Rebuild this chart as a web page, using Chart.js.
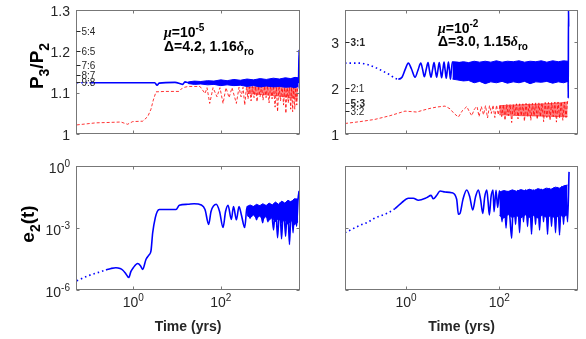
<!DOCTYPE html>
<html>
<head>
<meta charset="utf-8">
<script src="https://cdn.jsdelivr.net/npm/chart.js@4.4.1/dist/chart.umd.min.js"></script>
<style>
  body { margin: 0; background: #fff; }
  #wrap { position: relative; width: 586px; height: 339px; }
  #wrap canvas { position: absolute; left: 0; top: 0; }
</style>
</head>
<body>
<div id="wrap">
  <canvas id="c1" width="586" height="339"></canvas>
  <canvas id="c2" width="586" height="339"></canvas>
  <canvas id="c3" width="586" height="339"></canvas>
  <canvas id="c4" width="586" height="339"></canvas>
</div>
<script>
// ---- data (time in yrs) ----

// top left: P3/P2, mu = 1e-5
const p1BlueT = [0.051, 0.10, 0.5, 2.4, 3.1, 3.5, 3.9, 9.0, 13.5, 15.2, 18, 100, 1000, 5800, 6000, 6200, 6300];
const p1BlueV = [1.124, 1.124, 1.124, 1.124, 1.124, 1.118, 1.123, 1.125, 1.120, 1.126, 1.124, 1.124, 1.125, 1.125, 1.125, 1.203, 1.11];
const p1BandT = [18, 25, 35, 50, 70, 100, 140, 200, 280, 400, 560, 800, 1100, 1600, 2200, 3000, 4000, 5000, 5900];
const p1BandHi = [1.126, 1.128, 1.127, 1.129, 1.128, 1.131, 1.129, 1.132, 1.130, 1.133, 1.131, 1.134, 1.132, 1.135, 1.133, 1.136, 1.134, 1.137, 1.136];
const p1BandLo = [1.122, 1.120, 1.121, 1.119, 1.120, 1.117, 1.119, 1.117, 1.118, 1.115, 1.117, 1.114, 1.116, 1.114, 1.115, 1.113, 1.114, 1.112, 1.115];
const p1RedT = [0.051, 0.14, 0.29, 0.52, 0.74, 0.97, 1.64, 2.14, 2.54, 2.87,
  3.31, 5.3, 11.1, 13.5, 17.9, 33.6, 43.7, 48.6, 56, 66.7,
  82, 96, 113, 132, 155, 181, 228, 262, 292, 324,
  354, 389, 421, 456, 494, 534, 578, 626, 677, 733,
  793, 859, 929, 1005, 1088, 1178, 1274, 1380, 1493, 1615,
  1750, 1872, 1995, 2158, 2335, 2529, 2735, 2917, 3090, 3289,
  3507, 3733, 3981, 4191, 4419, 4656, 4932, 5200, 5483, 5781];
const p1RedV = [1.022, 1.027, 1.028, 1.029, 1.0235, 1.030, 1.031, 1.042, 1.06, 1.082,
  1.102, 1.103, 1.103, 1.112, 1.115, 1.115, 1.098, 1.112, 1.074, 1.112,
  1.09, 1.112, 1.074, 1.112, 1.088, 1.112, 1.074, 1.113, 1.09, 1.113,
  1.07, 1.114, 1.085, 1.114, 1.08, 1.115, 1.088, 1.115, 1.078, 1.116,
  1.09, 1.116, 1.082, 1.116, 1.088, 1.117, 1.075, 1.117, 1.085, 1.117,
  1.065, 1.117, 1.054, 1.117, 1.08, 1.118, 1.07, 1.118, 1.05, 1.118,
  1.075, 1.118, 1.06, 1.118, 1.054, 1.118, 1.06, 1.118, 1.07, 1.12];
const p1RedBandT = [400, 1000, 2000, 4000, 5800];
const p1RedBandHi = [1.113, 1.115, 1.116, 1.117, 1.118];
const p1RedBandLo = [1.098, 1.095, 1.092, 1.088, 1.085];

// top right: P3/P2, mu = 1e-2
const p2BlueT = [0.049, 0.093, 0.146, 0.235, 0.337, 0.454, 0.58, 0.684, 0.82, 0.95,
  1.12, 1.31, 1.56, 1.81, 2.07, 2.28, 2.47, 2.69, 2.97, 3.19,
  3.44, 3.7, 3.99, 4.25, 4.54, 4.84, 5.16, 5.47, 5.8, 6.16,
  6.54, 6.9, 7.29, 7.7, 8.13, 8.54, 8.97, 9.42, 9.9, 100,
  3000, 3030, 3060, 3090];
const p2BlueV = [2.55, 2.55, 2.52, 2.44, 2.36, 2.29, 2.22, 2.20, 2.24, 2.40,
  2.55, 2.42, 2.24, 2.40, 2.55, 2.40, 2.25, 2.40, 2.56, 2.38,
  2.24, 2.40, 2.56, 2.4, 2.24, 2.40, 2.56, 2.4, 2.23, 2.40,
  2.57, 2.4, 2.22, 2.4, 2.57, 2.4, 2.2, 2.4, 2.57, 2.36,
  2.36, 1.78, 3.8, 3.35];
const p2BandT = [9.9, 13, 17, 22, 29, 38, 50, 66, 87, 115, 150, 200, 265, 350, 460, 610, 800, 1050, 1400, 1850, 2400, 3000];
const p2BandHi = [2.57, 2.56, 2.58, 2.56, 2.59, 2.57, 2.59, 2.57, 2.60, 2.57, 2.59, 2.58, 2.60, 2.57, 2.59, 2.58, 2.60, 2.57, 2.60, 2.58, 2.60, 2.59];
const p2BandLo = [2.20, 2.18, 2.16, 2.17, 2.12, 2.15, 2.10, 2.14, 2.12, 2.15, 2.11, 2.14, 2.12, 2.15, 2.10, 2.14, 2.13, 2.15, 2.11, 2.14, 2.12, 2.15];
const p2RedT = [0.049, 0.103, 0.216, 0.454, 0.95, 1.28, 1.70, 2.32, 3.27, 4.63,
  6.87, 8.8, 10.7, 13.3, 15.9, 20.1, 22.5, 25.7, 29.5, 33.4,
  36.9, 41.3, 46, 50.8, 56.1, 61.9, 67.7, 73.6, 80.5, 87.5,
  95.2, 104, 113, 123, 133, 145, 157, 171, 185, 200,
  216, 234, 253, 274, 297, 321, 347, 376, 407, 440,
  476, 516, 558, 604, 653, 707, 765, 828, 897, 970,
  1050, 1137, 1230, 1331, 1442, 1560, 1688, 1828, 1977, 2140,
  2317, 2506, 2712, 2937];
const p2RedV = [1.23, 1.27, 1.32, 1.40, 1.50, 1.49, 1.48, 1.52, 1.56, 1.59,
  1.61, 1.55, 1.45, 1.37, 1.5, 1.60, 1.5, 1.40, 1.55, 1.60,
  1.38, 1.6, 1.42, 1.62, 1.35, 1.62, 1.45, 1.63, 1.36, 1.63,
  1.42, 1.64, 1.38, 1.64, 1.30, 1.65, 1.4, 1.65, 1.25, 1.65,
  1.42, 1.66, 1.33, 1.66, 1.4, 1.66, 1.28, 1.67, 1.38, 1.67,
  1.3, 1.67, 1.4, 1.68, 1.32, 1.68, 1.38, 1.68, 1.27, 1.69,
  1.36, 1.69, 1.3, 1.69, 1.38, 1.7, 1.26, 1.7, 1.35, 1.7,
  1.3, 1.7, 1.36, 1.72];
const p2RedBandT = [100, 300, 1000, 2000, 2940];
const p2RedBandHi = [1.62, 1.64, 1.66, 1.68, 1.70];
const p2RedBandLo = [1.42, 1.40, 1.39, 1.38, 1.38];

// bottom left: e2(t), mu = 1e-5
const p3T = [0.051, 0.098, 0.153, 0.237, 0.31, 0.40, 0.50, 0.57, 0.68, 0.785,
  0.885, 1.0, 1.26, 1.46, 1.64, 1.95, 2.29, 2.54, 2.78, 3.19,
  3.54, 3.94, 9.5, 11.3, 17.6, 24.5, 36, 43.7, 53, 60,
  79, 94, 113, 129, 147, 175, 196, 228, 262, 299,
  354, 400, 468, 566, 660, 777, 912, 1030, 1200, 1410,
  1615, 1795, 1995, 2240, 2460, 2735, 3040, 3380, 3733, 4130,
  4510, 4932, 5430, 5870, 6200];
const p3V = [2.8e-6, 5.1e-6, 6.9e-6, 9.3e-6, 1.1e-5, 1.2e-5, 1.1e-5, 9.3e-6, 6.0e-6, 4.0e-6,
  7.9e-6, 1.2e-5, 1.9e-5, 1.5e-5, 1.0e-5, 3.0e-5, 5.0e-5, 7.8e-5, 5.9e-4, 3.2e-3,
  6.3e-3, 7.9e-3, 7.9e-3, 1.26e-2, 1.4e-2, 1.5e-2, 1.3e-2, 7.9e-3, 1.5e-3, 6.3e-3,
  1.4e-2, 6.3e-3, 1.05e-3, 6.3e-3, 1.26e-2, 2.6e-3, 1.1e-2, 2.5e-3, 1.1e-2, 4.0e-3,
  1.05e-3, 1.1e-2, 3e-3, 1.1e-2, 2.5e-3, 1.2e-2, 1.8e-3, 1.3e-2, 2.0e-3, 1.4e-2,
  8e-4, 1.5e-2, 3.4e-4, 1.6e-2, 3.0e-4, 1.7e-2, 4e-4, 1.8e-2, 1.6e-4, 2e-2,
  6e-4, 2.2e-2, 1.2e-3, 2.5e-2, 6.2e-2];
const p3BandT = [400, 470, 560, 660, 780, 920, 1080, 1280, 1500, 1780, 2100, 2480, 2920, 3450, 4080, 4800, 5870];
const p3BandHi = [1.1e-2, 1.3e-2, 1.1e-2, 1.4e-2, 1.2e-2, 1.5e-2, 1.2e-2, 1.6e-2, 1.3e-2, 1.8e-2, 1.4e-2, 2.0e-2, 1.6e-2, 2.2e-2, 1.8e-2, 2.6e-2, 2.5e-2];
const p3BandLo = [4.0e-3, 3.2e-3, 4.2e-3, 3.0e-3, 3.8e-3, 2.6e-3, 3.6e-3, 2.4e-3, 3.2e-3, 2.0e-3, 3.0e-3, 1.8e-3, 2.6e-3, 1.5e-3, 2.4e-3, 1.4e-3, 2.0e-3];

// bottom right: e2(t), mu = 1e-2
const p4T = [0.049, 0.103, 0.155, 0.199, 0.277, 0.417, 0.58, 0.81, 1.12, 1.43,
  1.84, 2.78, 3.44, 3.85, 4.56, 5.37, 6.87, 9.57, 12.2, 13.3,
  14.4, 16.7, 20.1, 23.3, 27, 31, 35.6, 39.7, 44.3, 48.8,
  54, 57.5, 61.3, 66.7, 73.6, 77.3, 85.3, 92.6, 101, 115,
  127, 140, 154, 171, 185, 203, 224, 247, 273, 301,
  332, 367, 405, 447, 493, 544, 601, 664, 733, 809,
  893, 986, 1088, 1200, 1325, 1463, 1615, 1783, 1968, 2173,
  2399, 2649, 2924, 3150];
const p4V = [5.9e-4, 1.35e-3, 1.95e-3, 2.8e-3, 3.8e-3, 5.5e-3, 8.7e-3, 1.7e-2, 2.75e-2, 2.75e-2,
  2.2e-2, 2.95e-2, 3.8e-2, 2.6e-2, 3.8e-2, 6.2e-2, 5.5e-2, 5.1e-2, 2.45e-2, 4.6e-3,
  5.1e-3, 2.5e-2, 6.9e-2, 3.2e-2, 7.4e-3, 3.2e-2, 6.9e-2, 2.5e-2, 5.1e-3, 3.2e-2,
  6.9e-2, 2.0e-2, 4.3e-3, 3.2e-2, 6.9e-2, 6.2e-3, 6.6e-2, 1.0e-2, 6.3e-2, 2e-3,
  6e-2, 1e-3, 6e-2, 2.5e-3, 3.2e-4, 6e-2, 1.5e-3, 6.5e-2, 6e-4, 6.5e-2,
  2e-3, 7e-2, 1.2e-3, 7e-2, 5e-4, 7e-2, 1.5e-3, 7.5e-2, 8e-4, 7.5e-2,
  2e-3, 8e-2, 5e-4, 8e-2, 1.2e-3, 8.5e-2, 6e-4, 9e-2, 4.6e-4, 1e-1,
  1.5e-3, 1.1e-1, 2e-3, 0.52];
const p4BandT = [101, 125, 155, 190, 235, 290, 360, 445, 550, 680, 840, 1040, 1290, 1600, 1980, 2450, 2924];
const p4BandHi = [5.5e-2, 6.5e-2, 5.8e-2, 7e-2, 6e-2, 7.2e-2, 6.3e-2, 7.5e-2, 6.5e-2, 8e-2, 7e-2, 8.5e-2, 7.5e-2, 9.5e-2, 8.5e-2, 1.1e-1, 1.2e-1];
const p4BandLo = [4e-3, 3e-3, 4.5e-3, 3.2e-3, 4e-3, 3e-3, 4.4e-3, 3.2e-3, 4e-3, 3e-3, 4.2e-3, 3.2e-3, 4e-3, 3e-3, 4.2e-3, 3.5e-3, 4.5e-3];

// axes and labels
const xTicks = [1, 100];
const xTickExp = ['0', '2'];
const p1YTicks = [1, 1.1, 1.2, 1.3];
const p1YTickText = ['1', '1.1', '1.2', '1.3'];
const p2YTicks = [1, 2, 3];
const p2YTickText = ['1', '2', '3'];
const eYTicks = [1e-6, 1e-3, 1];
const eYTickExp = ['-6', '-3', '0'];
const p1ResText = ['5:4', '6:5', '7:6', '8:7', '9:8'];
const p1ResValue = [1.25, 1.2, 1.1667, 1.1429, 1.125];
const p2ResText = ['3:1', '2:1', '5:3', '3:2'];
const p2ResValue = [3, 2, 1.667, 1.5];
const p2ResBold = [true, false, true, false];

const BLUE = 'rgb(0,0,255)';
const RED = 'rgb(255,0,0)';
const FONT = '"Liberation Sans", Arial, Helvetica, sans-serif';
const TXT = '#262626';

function pts(t, v) { return t.map((x, i) => ({ x: x, y: v[i] })); }

function blueLine(t, v, dotUntil) {
  return {
    data: pts(t, v), borderColor: BLUE, borderWidth: 1.6, pointRadius: 0, fill: false,
    cubicInterpolationMode: 'monotone',
    segment: { borderDash: c => (c.p1.parsed.x < dotUntil ? [1.5, 3] : undefined) }
  };
}
function redLine(t, v) {
  return { data: pts(t, v), borderColor: RED, borderWidth: 0.8, borderDash: [3, 2], pointRadius: 0, fill: false };
}
function bandPair(t, hi, lo, color, fillColor) {
  return [
    { data: pts(t, hi), borderColor: color, borderWidth: 1, pointRadius: 0, fill: '+1', backgroundColor: fillColor },
    { data: pts(t, lo), borderColor: color, borderWidth: 1, pointRadius: 0, fill: false }
  ];
}

// text with super/subscripts: parts = [[text, 'n' | 'sup' | 'sub' | 'it'], ...]
function rich(ctx, parts, x, y, align, size, weight) {
  const fonts = parts.map(p => {
    const small = p[1] === 'sup' || p[1] === 'sub';
    const s = small ? Math.round(size * 0.72) : size;
    if (p[1] === 'it') return 'italic ' + weight + ' ' + s + 'px "Liberation Serif", serif';
    return weight + ' ' + s + 'px ' + FONT;
  });
  let w = 0;
  const ws = parts.map((p, i) => { ctx.font = fonts[i]; const m = ctx.measureText(p[0]).width; w += m; return m; });
  let cx = align === 'right' ? x - w : (align === 'center' ? x - w / 2 : x);
  ctx.textAlign = 'left';
  ctx.textBaseline = 'alphabetic';
  parts.forEach((p, i) => {
    ctx.font = fonts[i];
    const dy = p[1] === 'sup' ? -size * 0.42 : (p[1] === 'sub' ? size * 0.3 : 0);
    ctx.fillText(p[0], cx, y + dy);
    cx += ws[i];
  });
}

const panelById = {};

const deco = {
  id: 'deco',
  afterDatasetsDraw(chart) {
    const P = panelById[chart.canvas.id];
    if (!P) return;
    const ctx = chart.ctx, a = chart.chartArea;
    const xs = chart.scales.x, ys = chart.scales.y;
    const L = Math.round(a.left) + 0.5, T = Math.round(a.top) + 0.5;
    const R = Math.round(a.right) - 0.5, B = Math.round(a.bottom) - 0.5;
    ctx.save();
    ctx.strokeStyle = '#777';
    ctx.lineWidth = 1;
    ctx.strokeRect(L, T, R - L, B - T);
    ctx.beginPath();
    xTicks.forEach(v => {
      const px = Math.round(xs.getPixelForValue(v)) + 0.5;
      ctx.moveTo(px, B); ctx.lineTo(px, B - 3);
      ctx.moveTo(px, T); ctx.lineTo(px, T + 3);
    });
    P.yTicks.forEach(v => {
      const py = Math.round(ys.getPixelForValue(v)) + 0.5;
      ctx.moveTo(L, py); ctx.lineTo(L + 3, py);
      ctx.moveTo(R, py); ctx.lineTo(R - 3, py);
    });
    ctx.stroke();

    ctx.fillStyle = TXT;
    // y tick labels
    if (P.yLabels) {
      P.yTicks.forEach((v, i) => {
        const py = ys.getPixelForValue(v);
        rich(ctx, P.yLabels[i], a.left - 6, py + (P.yLabels[i].length > 1 ? 7 : 5.5), 'right', 14, 'normal');
      });
    }
    // x tick labels + title
    if (P.xLabels) {
      xTicks.forEach((v, i) => {
        rich(ctx, [['10', 'n'], [xTickExp[i], 'sup']], xs.getPixelForValue(v), a.bottom + 17, 'center', 14, 'normal');
      });
      rich(ctx, [['Time (yrs)', 'n']], (a.left + a.right) / 2, a.bottom + 41, 'center', 14, 'bold');
    }
    // y title
    if (P.yTitle) {
      ctx.save();
      ctx.translate(P.yTitle.x, P.yTitle.y);
      ctx.rotate(-Math.PI / 2);
      ctx.fillStyle = '#000';
      rich(ctx, P.yTitle.parts, 0, 0, 'center', 19, 'bold');
      ctx.restore();
    }
    // resonance markers
    if (P.res) {
      P.res.text.forEach((s, i) => {
        const py = Math.round(ys.getPixelForValue(P.res.value[i])) + 0.5;
        ctx.strokeStyle = TXT;
        ctx.beginPath(); ctx.moveTo(L, py); ctx.lineTo(L + 4, py); ctx.stroke();
        ctx.fillStyle = TXT;
        ctx.font = (P.res.bold && P.res.bold[i] ? 'bold ' : '') + '10px ' + FONT;
        ctx.textAlign = 'left'; ctx.textBaseline = 'middle';
        ctx.fillText(s, L + 5, py + 0.5);
      });
    }
    // annotation
    if (P.note) {
      ctx.fillStyle = '#000';
      P.note.lines.forEach((parts, i) => rich(ctx, parts, P.note.x, P.note.y[i], 'left', 14, 'bold'));
    }
    ctx.restore();
  }
};

const panels = [
  {
    id: 'c1', area: { l: 76, t: 10, r: 300, b: 134 }, xMax: 6500,
    yType: 'linear', yMin: 1, yMax: 1.3, yTicks: p1YTicks,
    yLabels: p1YTickText.map(s => [[s, 'n']]), xLabels: false,
    yTitle: { x: 43, y: 66, parts: [['P', 'n'], ['3', 'sub'], ['/P', 'n'], ['2', 'sub']] },
    res: { text: p1ResText, value: p1ResValue },
    note: { x: 164, y: [37, 51], lines: [
      [['\u03bc', 'it'], ['=10', 'n'], ['-5', 'sup']],
      [['\u0394=4.2, 1.16', 'n'], ['\u03b4', 'it'], ['ro', 'sub']]] },
    datasets: [blueLine(p1BlueT, p1BlueV, 0.3)]
      .concat(bandPair(p1BandT, p1BandHi, p1BandLo, BLUE, BLUE))
      .concat([redLine(p1RedT, p1RedV)])
      .concat(bandPair(p1RedBandT, p1RedBandHi, p1RedBandLo, 'rgba(255,0,0,0.5)', 'rgba(255,0,0,0.45)'))
  },
  {
    id: 'c2', area: { l: 345, t: 10, r: 578, b: 134 }, xMax: 4900,
    yType: 'linear', yMin: 1, yMax: 3.71, yTicks: p2YTicks,
    yLabels: p2YTickText.map(s => [[s, 'n']]), xLabels: false,
    res: { text: p2ResText, value: p2ResValue, bold: p2ResBold },
    note: { x: 438, y: [33, 46], lines: [
      [['\u03bc', 'it'], ['=10', 'n'], ['-2', 'sup']],
      [['\u0394=3.0, 1.15', 'n'], ['\u03b4', 'it'], ['ro', 'sub']]] },
    datasets: [blueLine(p2BlueT, p2BlueV, 0.8)]
      .concat(bandPair(p2BandT, p2BandHi, p2BandLo, BLUE, BLUE))
      .concat([redLine(p2RedT, p2RedV)])
      .concat(bandPair(p2RedBandT, p2RedBandHi, p2RedBandLo, 'rgba(255,0,0,0.55)', 'rgba(255,0,0,0.5)'))
  },
  {
    id: 'c3', area: { l: 76, t: 166, r: 300, b: 290 }, xMax: 6500,
    yType: 'logarithmic', yMin: 1e-6, yMax: 1, yTicks: eYTicks,
    yLabels: eYTickExp.map(e => [['10', 'n'], [e, 'sup']]), xLabels: true,
    yTitle: { x: 34, y: 224, parts: [['e', 'n'], ['2', 'sub'], ['(t)', 'n']] },
    datasets: [blueLine(p3T, p3V, 0.3)].concat(bandPair(p3BandT, p3BandHi, p3BandLo, BLUE, BLUE))
  },
  {
    id: 'c4', area: { l: 345, t: 166, r: 578, b: 290 }, xMax: 4900,
    yType: 'logarithmic', yMin: 1e-6, yMax: 1, yTicks: eYTicks,
    yLabels: null, xLabels: true,
    datasets: [blueLine(p4T, p4V, 0.8)].concat(bandPair(p4BandT, p4BandHi, p4BandLo, BLUE, BLUE))
  }
];

panels.forEach(P => {
  panelById[P.id] = P;
  new Chart(document.getElementById(P.id), {
    type: 'line',
    data: { datasets: P.datasets },
    options: {
      responsive: false,
      animation: false,
      devicePixelRatio: 1,
      layout: { padding: { left: P.area.l, top: P.area.t, right: 586 - P.area.r, bottom: 339 - P.area.b } },
      scales: {
        x: { type: 'logarithmic', min: 0.049, max: P.xMax, display: false },
        y: { type: P.yType, min: P.yMin, max: P.yMax, display: false }
      },
      plugins: { legend: { display: false }, tooltip: { enabled: false } }
    },
    plugins: [deco]
  });
});
</script>
</body>
</html>
